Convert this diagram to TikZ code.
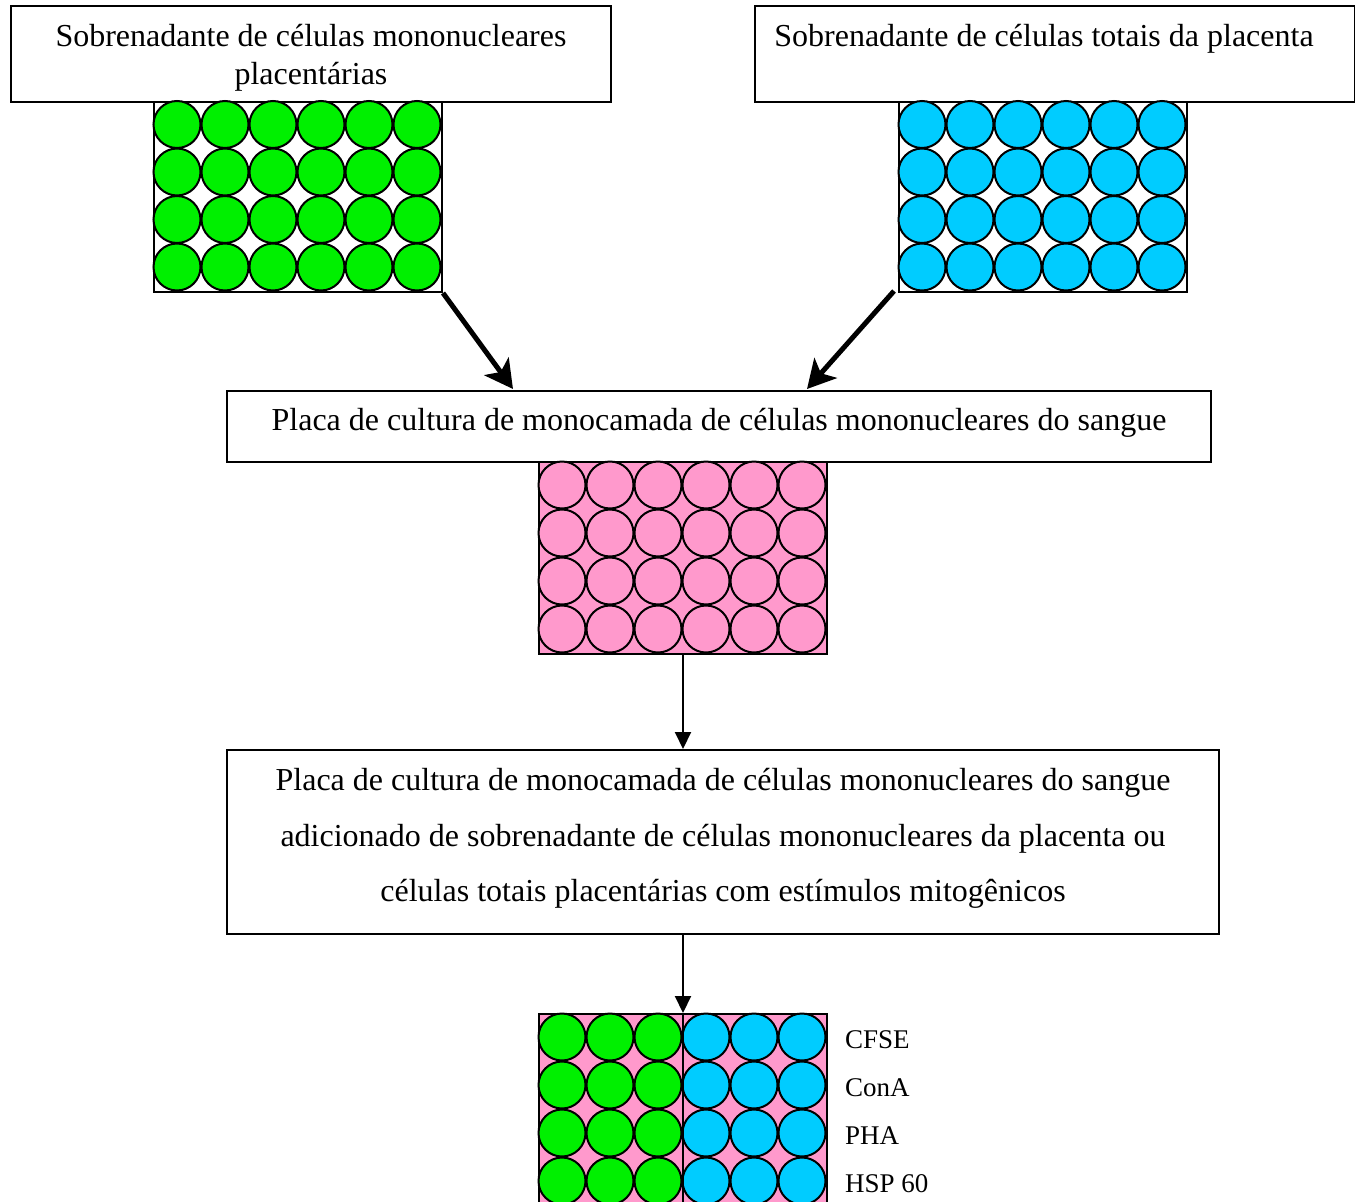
\documentclass[tikz,border=0pt]{standalone}
\usepackage{fontspec}
\setmainfont{Liberation Serif}
\usepackage{xcolor}
\definecolor{cellgreen}{HTML}{00F000}
\definecolor{cellblue}{HTML}{00CCFF}
\definecolor{cellpink}{HTML}{FF99CC}
\usepackage{tikz}
\usetikzlibrary{arrows.meta,positioning,calc}

\begin{document}
\begin{tikzpicture}[x=1pt, y=-1pt,
      box/.style={draw, line width=2pt, align=center, font=\fontsize{32}{38}\selectfont, anchor=north west, inner sep=0pt},
      plate/.style={draw, line width=2pt, anchor=north west, minimum width=288pt, minimum height=190pt, inner sep=0pt},
      cell/.style={draw, line width=2pt},
      bigarr/.style={line width=5pt, -{Stealth[length=28pt,width=30pt,inset=7pt]}},
      arr/.style={line width=2pt, -{Triangle[length=17pt,width=16pt]}},
      lbl/.style={anchor=west, font=\fontsize{27}{30}\selectfont, inner sep=0pt}
    ]
    \clip (0,0) rectangle (1355,1202);
    \node[box, minimum width=600pt, minimum height=96pt, text depth=0pt] (sup1) at (10,5) {Sobrenadante de células mononucleares\\placentárias};
    \node[box, minimum width=600pt, minimum height=96pt] (sup2) at (754,5) {Sobrenadante de células totais da placenta\hspace*{22pt}\\\mbox{}};
    \node[plate] (pg) at (153,101) {};
    \node[plate] (pb) at (898,101) {};
    \node[box, minimum width=984pt, minimum height=71pt, text depth=14pt] (cult) at (226,390) {Placa de cultura de monocamada de células mononucleares do sangue};
    \node[plate, fill=cellpink, minimum height=192pt] (pp) at (538,461) {};
    \node[box, minimum width=992pt, minimum height=184pt, font=\fontsize{32}{55.5}\selectfont, text depth=14pt] (mix) at (226,749) {Placa de cultura de monocamada de células mononucleares do sangue\\adicionado de sobrenadante de células mononucleares da placenta ou\\células totais placentárias com estímulos mitogênicos};
    \node[plate, fill=cellpink, minimum height=192pt] (pm) at (538,1013) {};
    % cells in each plate
    \foreach \i in {0,...,5} \foreach \j in {0,...,3} {
      \draw[cell, fill=cellgreen] ($(pg.north west)+(24+48*\i,23.5+47.5*\j)$) circle[radius=23.5];
      \draw[cell, fill=cellblue] ($(pb.north west)+(24+48*\i,23.5+47.5*\j)$) circle[radius=23.5];
      \draw[cell, fill=cellpink] ($(pp.north west)+(24+48*\i,24+48*\j)$) circle[radius=23.5];
    }
    \foreach \i in {0,1,2} \foreach \j in {0,...,3} {
      \draw[cell, fill=cellgreen] ($(pm.north west)+(24+48*\i,24+48*\j)$) circle[radius=23.5];
      \draw[cell, fill=cellblue] ($(pm.north west)+(168+48*\i,24+48*\j)$) circle[radius=23.5];
    }
    \draw[line width=2pt] (pm.north) -- (pm.south);
    \node[lbl] (cfse) at (845,1040) {CFSE};
    \node[lbl] (cona) at (845,1088) {ConA};
    \node[lbl] (pha) at (845,1136) {PHA};
    \node[lbl] (hsp) at (845,1184) {HSP 60};
    % arrows
    \coordinate (in1) at ($(cult.north west)+(287,-1)$);
    \coordinate (in2) at ($(cult.north west)+(581,-1)$);
    \draw[bigarr] (pg.south east) -- (in1);
    \draw[bigarr] ($(pb.south west)+(-4,-2)$) -- (in2);
    \draw[arr] (pp.south) -- (pp.south |- mix.north);
    \draw[arr] (mix.south -| pm.north) -- (pm.north);
  \end{tikzpicture}
\end{document}
